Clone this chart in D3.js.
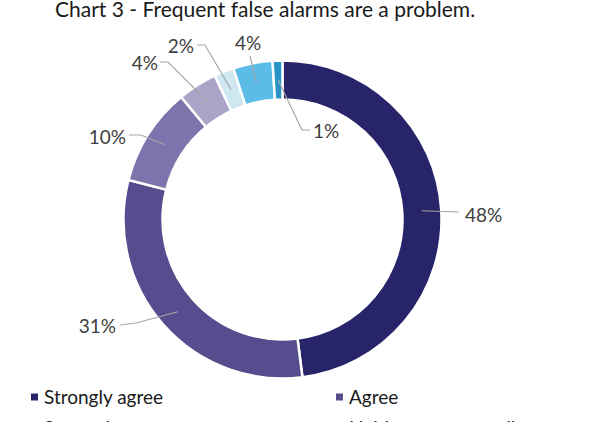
<!DOCTYPE html>
<html>
<head>
<meta charset="utf-8">
<script src="https://cdn.jsdelivr.net/npm/d3@7"></script>
<style>
  body { margin: 0; background: #fff; }
  svg { display: block; }
</style>
</head>
<body>
<svg id="chart" width="591" height="422"></svg>
<script>
// data
const categories = ["Strongly agree", "Agree", "Somewhat agree", "Neither agree nor disagree",
                    "Somewhat disagree", "Disagree", "Strongly disagree"];
const values = [48, 31, 10, 4, 2, 4, 1];
const colors = ["#28246a", "#564d8e", "#7c74ac", "#aaa5c8", "#cfe7f1", "#5bbce7", "#2a94c6"];
const title = "Chart 3 - Frequent false alarms are a problem.";

// label layout: text position + leader line bend points
const labelLayout = [
  { x: 465, y: 215, anchor: "start",  pts: [[459, 212]] },
  { x: 116, y: 326, anchor: "end",    pts: [[136, 323], [120, 325]] },
  { x: 126, y: 137, anchor: "end",    pts: [[141, 135], [129, 135]] },
  { x: 158, y: 63,  anchor: "end",    pts: [[168, 62], [160, 62]] },
  { x: 194, y: 46,  anchor: "end",    pts: [[205, 45], [197, 45]] },
  { x: 248, y: 43,  anchor: "middle", pts: [[250, 56]] },
  { x: 313, y: 131, anchor: "start",  pts: [[302, 130], [310, 130]] }
];

const font = "Lato, 'Open Sans', sans-serif";
const svg = d3.select("#chart");
const cx = 282.5, cy = 219.5, outerR = 159, innerR = 120;

svg.append("text")
  .attr("x", 55).attr("y", 17)
  .attr("font-family", font).attr("font-size", 21)
  .attr("fill", "#1a1a1a")
  .text(title);

const pie = d3.pie().sort(null).value(d => d);
const arcs = pie(values);
const arc = d3.arc().innerRadius(innerR).outerRadius(outerR);
const midArc = d3.arc().innerRadius((innerR + outerR) / 2).outerRadius((innerR + outerR) / 2);

const g = svg.append("g").attr("transform", "translate(" + cx + "," + cy + ")");

g.selectAll("path.slice")
  .data(arcs)
  .enter().append("path")
  .attr("class", "slice")
  .attr("d", arc)
  .attr("fill", (d, i) => colors[i])
  .attr("stroke", "#fff")
  .attr("stroke-width", 2.5);

// leader lines
const line = d3.line();
svg.selectAll("path.leader")
  .data(arcs)
  .enter().append("path")
  .attr("class", "leader")
  .attr("d", (d, i) => {
    const c = midArc.centroid(d);
    return line([[c[0] + cx, c[1] + cy]].concat(labelLayout[i].pts));
  })
  .attr("fill", "none")
  .attr("stroke", "#a6a6a6")
  .attr("stroke-width", 1.2);

svg.selectAll("text.lbl")
  .data(arcs)
  .enter().append("text")
  .attr("class", "lbl")
  .attr("x", (d, i) => labelLayout[i].x)
  .attr("y", (d, i) => labelLayout[i].y)
  .attr("dy", "0.35em")
  .attr("text-anchor", (d, i) => labelLayout[i].anchor)
  .attr("font-family", font).attr("font-size", 19)
  .attr("fill", "#404040")
  .text(d => d.data + "%");

// legend, two columns (second row falls below the visible area)
const legend = svg.selectAll("g.leg")
  .data(categories)
  .enter().append("g")
  .attr("class", "leg")
  .attr("transform", (d, i) => "translate(" + (i % 2 ? 336 : 31) + "," + (397 + Math.floor(i / 2) * 31) + ")");

legend.append("rect")
  .attr("x", 0).attr("y", -3.5)
  .attr("width", 7).attr("height", 7)
  .attr("fill", (d, i) => colors[i]);

legend.append("text")
  .attr("x", 13).attr("y", 0)
  .attr("dy", "0.35em")
  .attr("font-family", font).attr("font-size", 19)
  .attr("fill", "#1a1a1a")
  .text(d => d);
</script>
</body>
</html>
